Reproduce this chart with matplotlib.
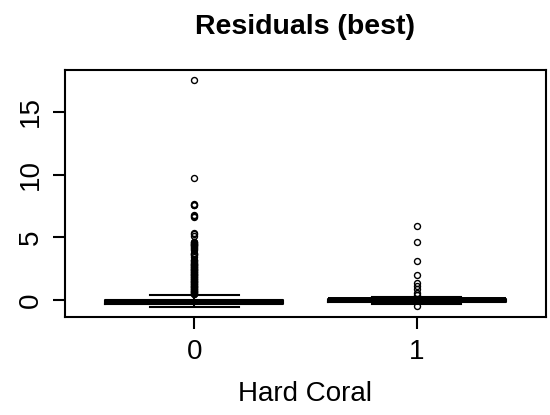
import matplotlib
matplotlib.use("Agg")
import matplotlib.pyplot as plt

plt.rcParams['font.family'] = ['Liberation Sans', 'DejaVu Sans']

categories = ["0", "1"]
title = "Residuals (best)"
xlabel = "Hard Coral"

# box statistics
whislo = [-0.6, -0.35]
q1 = [-0.3, -0.15]
med = [-0.2, 0.0]
q3 = [0.0, 0.1]
whishi = [0.4, 0.2]

outliers_0 = [17.55, 9.7, 7.65, 7.6, 7.55, 6.75, 6.7, 6.65, 5.35, 5.25, 5.1,
              4.65, 4.6, 4.55, 4.5, 4.45, 4.4, 4.35, 4.3, 4.2, 4.15, 4.1, 4.0,
              3.75, 3.7, 3.65, 3.55, 3.45,
              3.2, 3.15, 3.1, 3.0, 2.95, 2.9, 2.85, 2.8, 2.75, 2.7, 2.65, 2.6,
              2.55, 2.5, 2.45, 2.4, 2.35, 2.3, 2.25, 2.2, 2.15, 2.1, 2.05, 2.0,
              1.95, 1.9, 1.85, 1.8, 1.75, 1.7, 1.65, 1.6, 1.55, 1.5, 1.45,
              1.4, 1.35, 1.3, 1.25, 1.2, 1.15, 1.1, 1.05, 1.0, 0.95, 0.9,
              0.85, 0.8, 0.75, 0.7, 0.65, 0.6, 0.55, 0.5, 0.45]
outliers_1 = [5.93, 4.6, 3.13, 1.99, 1.33, 1.12, 0.88, 0.56, 0.4, -0.48]
outliers = [outliers_0, outliers_1]

stats = []
for i, c in enumerate(categories):
    stats.append(dict(label=c, whislo=whislo[i], q1=q1[i], med=med[i],
                      q3=q3[i], whishi=whishi[i], fliers=outliers[i]))

fig = plt.figure(figsize=(5.5, 4.15), dpi=100)
ax = fig.add_axes([65/550, (415-317)/415, (546-65)/550, (317-70)/415])

ax.bxp(stats, positions=[1, 2], widths=0.8, capwidths=0.4,
       boxprops=dict(color='black', linewidth=1.5),
       medianprops=dict(color='black', linewidth=4.3),
       whiskerprops=dict(color='black', linewidth=1.5, linestyle=(0, (3, 3))),
       capprops=dict(color='black', linewidth=1.5),
       flierprops=dict(marker='o', markersize=4.3, markerfacecolor='none',
                       markeredgecolor='black', markeredgewidth=1.0,
                       linestyle='none'))

ax.set_xlim(0.42, 2.58)
ax.set_ylim(-1.36, 18.34)
ax.set_xticks([1, 2])
ax.set_xticklabels(categories)
ax.set_yticks([0, 5, 10, 15])
ax.set_yticklabels(["0", "5", "10", "15"], rotation=90, va='center')

for s in ax.spines.values():
    s.set_linewidth(1.5)
    s.set_color('black')
ax.tick_params(axis='both', length=8.5, width=1.5, labelsize=20, pad=7,
               colors='black')
ax.set_xlabel(xlabel, fontsize=20, labelpad=12)

fig.text(305/550, (415-34)/415, title, ha='center', va='baseline',
         fontsize=20.5, fontweight='bold')

fig.savefig("out.png", dpi=100)
